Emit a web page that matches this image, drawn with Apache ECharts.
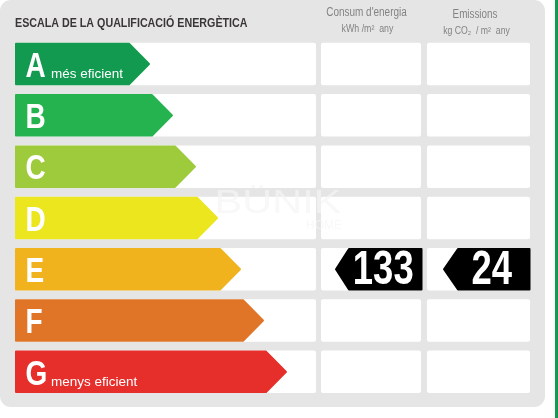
<!DOCTYPE html>
<html><head><meta charset="utf-8">
<style>html,body{margin:0;padding:0;background:#fff}#c{width:558px;height:418px}</style>
<script src="https://cdn.jsdelivr.net/npm/echarts@6/dist/echarts.min.js"></script>
</head><body><div id="c"></div>
<script>
const categories = ['A','B','C','D','E','F','G'];
const arrowLengths = [135,158,181,203,226,249,272];
const arrowColors = ['#129a50','#25b34f','#9dcb3b','#ebe61e','#f0b31e','#e07527','#e62e2b'];
const arrowNotes = ['més eficient','','','','','','menys eficient'];
const ratedClass = 'E';
const energyValue = 133;
const emissionValue = 24;
const title = 'ESCALA DE LA QUALIFICACIÓ ENERGÈTICA';

const SANS = '"Liberation Sans",sans-serif';
const chart = echarts.init(document.getElementById('c'), null, {renderer:'canvas'});

const cols = [[0,301],[306,406],[412,515]];
const tagCols = [[320,407,13],[428,515,14]];

function T(x,y,text,font,fill,sx,align,z){
  const e = {type:'text',x:x,y:y,scaleX:sx||1,originX:0,originY:0,
    style:{x:0,y:0,text:text,fill:fill,font:font,align:align||'left',verticalAlign:'middle'}};
  if(z!==undefined) e.z = z;
  return e;
}
function bandRect(api, idx){
  const c = api.coord([0, idx]);
  const h = api.size([0,1])[1];
  return {x:c[0], cy:c[1], h:h-8.8};
}

const GR = '#838383';
const WM = 'rgba(245,245,245,0.7)';
const option = {
  animation:false,
  backgroundColor:'#ffffff',
  grid:{left:15,width:515,top:38.4,height:359.1,containLabel:false},
  xAxis:{type:'value',min:0,max:515,show:false},
  yAxis:{type:'category',data:categories,inverse:true,show:false},
  graphic:{elements:[
    {type:'rect',z:-10,shape:{x:0,y:0,width:545,height:407,r:11},style:{fill:'#e5e5e5'}},
    {type:'rect',z:-10,shape:{x:555,y:0,width:3,height:418},style:{fill:'#129a50'}},
    T(15,23.5,title,'bold 12.6px '+SANS,'#3a3636',0.85,'left',1),
    T(366.5,13,"Consum d'energia",'12px '+SANS,GR,0.83,'center',1),
    T(367.5,29,'kWh /m²  any','10px '+SANS,GR,0.88,'center',1),
    T(475,15,'Emissions','12px '+SANS,GR,0.82,'center',1),
    T(476.5,31,'kg CO₂  / m²  any','10px '+SANS,GR,0.87,'center',1),
    T(278,204,'BÜNIK','34px '+SANS,WM,1.22,'center',60),
    T(324,226,'HOME','12px '+SANS,WM,1,'center',60)
  ]},
  series:[
    {type:'custom',z:2,silent:true,coordinateSystem:'cartesian2d',
     data:categories.map((c,i)=>[0,i]),
     renderItem(params,api){
       const b = bandRect(api, api.value(1));
       return {type:'group',children:cols.map(col=>{
         const x0 = api.coord([col[0],0])[0], x1 = api.coord([col[1],0])[0];
         return {type:'rect',shape:{x:x0,y:b.cy-b.h/2,width:x1-x0,height:b.h,r:2},style:{fill:'#ffffff'}};
       })};
     }},
    {type:'custom',z:3,silent:true,coordinateSystem:'cartesian2d',
     data:categories.map((c,i)=>[arrowLengths[i],i]),
     renderItem(params,api){
       const i = api.value(1), b = bandRect(api,i);
       const x0 = b.x+1, tip = api.coord([api.value(0),i])[0]-1;
       const t = b.cy-b.h/2+1, m = b.cy, bt = b.cy+b.h/2-1;
       const sh = tip-20;
       const kids = [{type:'polygon',
         shape:{points:[[x0,t],[sh,t],[tip,m],[sh,bt],[x0,bt]]},
         style:{fill:arrowColors[i],stroke:arrowColors[i],lineWidth:2,lineJoin:'round'}},
         T(b.x+10.5,b.cy+3,categories[i],'bold 35px '+SANS,'#fff',0.8)];
       if(arrowNotes[i]) kids.push(T(b.x+36,b.cy+10.5,arrowNotes[i],'13.5px '+SANS,'#fff'));
       return {type:'group',children:kids};
     }},
    {type:'custom',z:4,silent:true,coordinateSystem:'cartesian2d',
     data:[[0,categories.indexOf(ratedClass),energyValue],[1,categories.indexOf(ratedClass),emissionValue]],
     renderItem(params,api){
       const k = api.value(0), i = api.value(1), v = api.value(2), col = tagCols[k], b = bandRect(api,i);
       const x0 = api.coord([col[0],i])[0]+1, x1 = api.coord([col[1],i])[0]-0.5;
       const t = b.cy-b.h/2+1, bt = b.cy+b.h/2-1, m = b.cy, sh = x0+col[2];
       return {type:'group',children:[
        {type:'polygon',shape:{points:[[x0,m],[sh,t],[x1,t],[x1,bt],[sh,bt]]},
         style:{fill:'#000',stroke:'#000',lineWidth:2,lineJoin:'round'}},
        T((sh+x1)/2-2,m+1.5,String(v),'bold 48px '+SANS,'#fff',0.76,'center')
       ]};
     }}
  ]
};
chart.setOption(option);
</script></body></html>
